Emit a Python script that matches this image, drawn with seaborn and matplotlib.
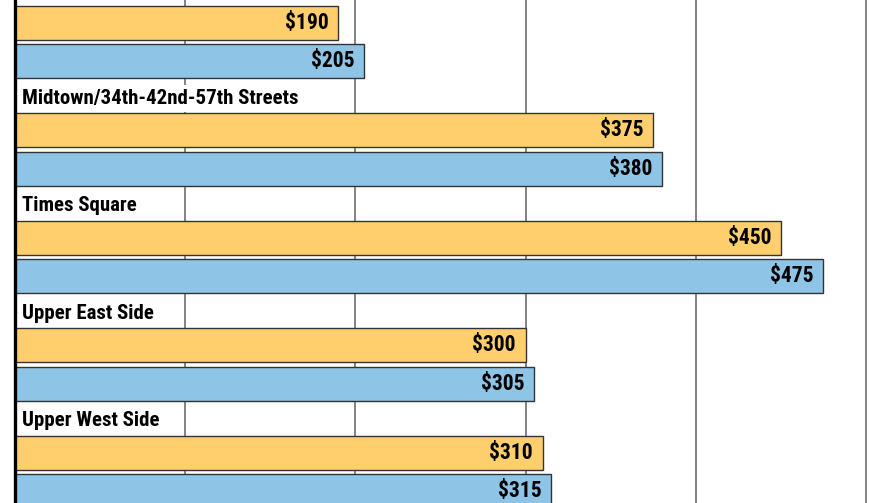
import pandas as pd
import matplotlib
matplotlib.use("Agg")
import matplotlib.pyplot as plt
from matplotlib import font_manager
import seaborn as sns

# first group's label sits above the visible area of the picture
neighborhoods = ["", "Midtown/34th-42nd-57th Streets", "Times Square",
                 "Upper East Side", "Upper West Side"]
series_names = ["Series A", "Series B"]
values_a = [190, 375, 450, 300, 310]
values_b = [205, 380, 475, 305, 315]
gridlines = [100, 200, 300, 400, 500]

colors = ["#FFCF6E", "#8EC4E6"]

df = pd.DataFrame({
    "group": neighborhoods * 2,
    "series": [series_names[0]] * len(values_a) + [series_names[1]] * len(values_b),
    "value": values_a + values_b,
})


def pick_narrow_font():
    # look for any condensed / narrow face that is installed
    found = []
    for f in font_manager.fontManager.ttflist:
        tag = (f.name + " " + str(f.stretch) + " " + f.fname).lower()
        if "narrow" in tag or "condensed" in tag:
            found.append(f)
    for pref in ["Liberation Sans Narrow", "Roboto Condensed", "Open Sans Condensed",
                 "DejaVu Sans"]:
        for f in found:
            if f.name == pref:
                return f.name, f.stretch
    if found:
        return found[0].name, found[0].stretch
    return "DejaVu Sans", "normal"


font_name, font_stretch = pick_narrow_font()

sns.set_style("white")
plt.rcParams["font.family"] = [font_name, "DejaVu Sans"]
plt.rcParams["font.stretch"] = font_stretch

fig = plt.figure(figsize=(8.69, 5.03), dpi=100)
ax = fig.add_axes([0, 0, 1, 1])

for g in gridlines:
    ax.axvline(g, color="#6e6e6e", lw=1.2, zorder=0)

sns.barplot(data=df, y="group", x="value", hue="series", orient="h",
            palette=colors, saturation=1, width=0.716, gap=0.117, order=neighborhoods,
            edgecolor="#333333", linewidth=1.0, legend=False, ax=ax, zorder=2)

for cont, vals in zip(ax.containers, [values_a, values_b]):
    for bar, v in zip(cont, vals):
        yc = bar.get_y() + bar.get_height() / 2
        ax.annotate(f"${v}", xy=(v, yc), xytext=(-7, 0), textcoords="offset points",
                    ha="right", va="center", fontsize=15.5, fontweight="bold",
                    color="black", zorder=4)

for i, name in enumerate(neighborhoods):
    if not name:
        continue
    ax.text(4.3, i - 0.475, name, ha="left", va="center", fontsize=15,
            fontweight="bold", color="black", zorder=3,
            bbox=dict(facecolor="white", edgecolor="none", pad=3))

ax.axvline(0, color="black", lw=2.4, zorder=5)

ax.set_xlim(-8.8, 501.8)
ax.set_ylim(4.288, -0.391)
ax.set_axis_off()

fig.savefig("out.png", dpi=100)
